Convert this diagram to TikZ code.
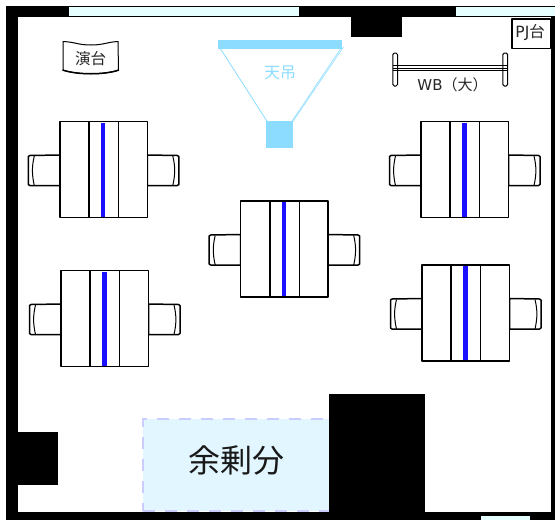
\documentclass[tikz,border=0pt]{standalone}
\usepackage{fontspec}
\setmainfont{DejaVu Sans}
\newfontfamily\cjk{Noto Sans CJK JP}
\definecolor{glass}{HTML}{E6FFFF}
\definecolor{hang}{HTML}{8CDCFF}
\definecolor{spare}{HTML}{E2F6FF}
\definecolor{sparedash}{HTML}{CCCCFF}
\definecolor{stripe}{HTML}{1A10FF}
\tikzset{
  x=1pt,y=-1pt,
  wall/.style={fill=black,draw=none},
  glasspane/.style={fill=glass,draw=black,line width=.8pt},
  furn/.style={draw=black,line width=1.5pt,fill=white,line join=round},
  thin furn/.style={draw=black,line width=1pt,fill=white},
  lbl/.style={inner sep=0pt,text=black!85},
  pics/desk/.style={code={
    \draw[furn] (-31.5,35) .. controls (-31.5,34) .. (-30,34) -- (0,33.5) -- (0,64) -- (-30,64) .. controls (-31.5,64) .. (-31.5,63) -- cycle;
    \draw[line width=1pt] (-25.5,34.5) .. controls (-28,45) and (-28,53) .. (-25.5,64);
    \draw[furn] (119,35) .. controls (119,34) .. (117.5,34) -- (87.5,33.5) -- (87.5,64) -- (117.5,64) .. controls (119,64) .. (119,63) -- cycle;
    \draw[line width=1pt] (113,34.5) .. controls (115.5,45) and (115.5,53) .. (113,64);
    \draw[furn] (0,0) rectangle (87.5,96);
    \fill[stripe] (41.2,1) rectangle (45.5,95);
    \draw[furn,fill=none] (29.2,0) -- (29.2,96) (58.7,0) -- (58.7,96);
  }}
}
\begin{document}
\begin{tikzpicture}
\useasboundingbox (0,0) rectangle (555,520);
\fill[white] (0,0) rectangle (555,520);
% walls
\fill[wall] (6.3,5.8) rectangle (555,16.7);
\fill[wall] (6.3,5.8) rectangle (17.7,520);
\fill[wall] (6.3,512.3) rectangle (551,520);
\fill[wall] (550.8,16) rectangle (555,520);
\fill[wall] (351,16) rectangle (402,37);
\fill[wall] (17,431.7) rectangle (58.4,485.3);
% windows
\draw[glasspane] (68,6.6) rectangle (299,16);
\draw[glasspane] (455.7,6.6) rectangle (555.5,16);
\draw[glasspane] (480,515.8) rectangle (530,520.5);
% spare area
\node[draw=sparedash,fill=spare,line width=2pt,dash pattern=on 12pt off 10pt,minimum width=187pt,minimum height=92pt,inner sep=0pt,anchor=north west] (spare) at (141.7,418.2) {};
\node[lbl,font=\cjk\fontsize{32}{32}\selectfont,text=black!90] (sparetext) at (236,460.5) {余剰分};
\fill[wall] (329,394.3) rectangle (425,512.5);
% lectern
\draw[furn,line width=1pt] (63,41.5) .. controls (75,42) and (78,45) .. (91,45) .. controls (104,45) and (107,42) .. (118,41.5) -- (118.5,70) .. controls (105,75) and (77,75) .. (63,70) -- cycle;
\draw[black,line width=1.5pt] (62.5,70) .. controls (77,75) and (105,75) .. (119,70);
\node[lbl,font=\cjk\fontsize{15.5}{16}\selectfont] (lectern) at (90.5,58.5) {演台};
% hanging screen
\draw[hang,line width=.8pt] (220,48) -- (267.5,122);
\draw[hang,line width=.6pt] (341,48) -- (291.5,122);
\draw[hang,line width=.6pt] (343.5,47) -- (292.5,122);
\fill[hang] (218,40) rectangle (342,49);
\fill[hang] (266,121) rectangle (293,148);
\node[lbl,font=\cjk\fontsize{16}{16}\selectfont,text=hang] (hang) at (280,73) {天吊};
% whiteboard
\draw[thin furn,rounded corners=1.5pt] (392.8,53) rectangle (397.5,86);
\draw[thin furn,rounded corners=1.5pt] (502.8,53) rectangle (507.6,86);
\draw[black,line width=1pt] (393,65.5) -- (508,65.5) (393,68) -- (508,68) (393,70.5) -- (508,70.5);
\node[lbl,font=\fontsize{15}{15}\selectfont] (wb) at (452.5,85) {WB{\cjk（大）}};
% PJ stand
\node[furn,minimum width=38.5pt,minimum height=29.5pt,inner sep=0pt,anchor=north west] (pj) at (511,18) {};
\node[lbl,font=\fontsize{15.5}{15}\selectfont] (pjtext) at (530.2,33) {PJ{\cjk 台}};
% desks
\pic at (59.8,121.5) {desk};
\pic at (421,121.5) {desk};
\pic at (240.7,201) {desk};
\pic at (61,270.5) {desk};
\pic at (422,265) {desk};
\end{tikzpicture}
\end{document}
